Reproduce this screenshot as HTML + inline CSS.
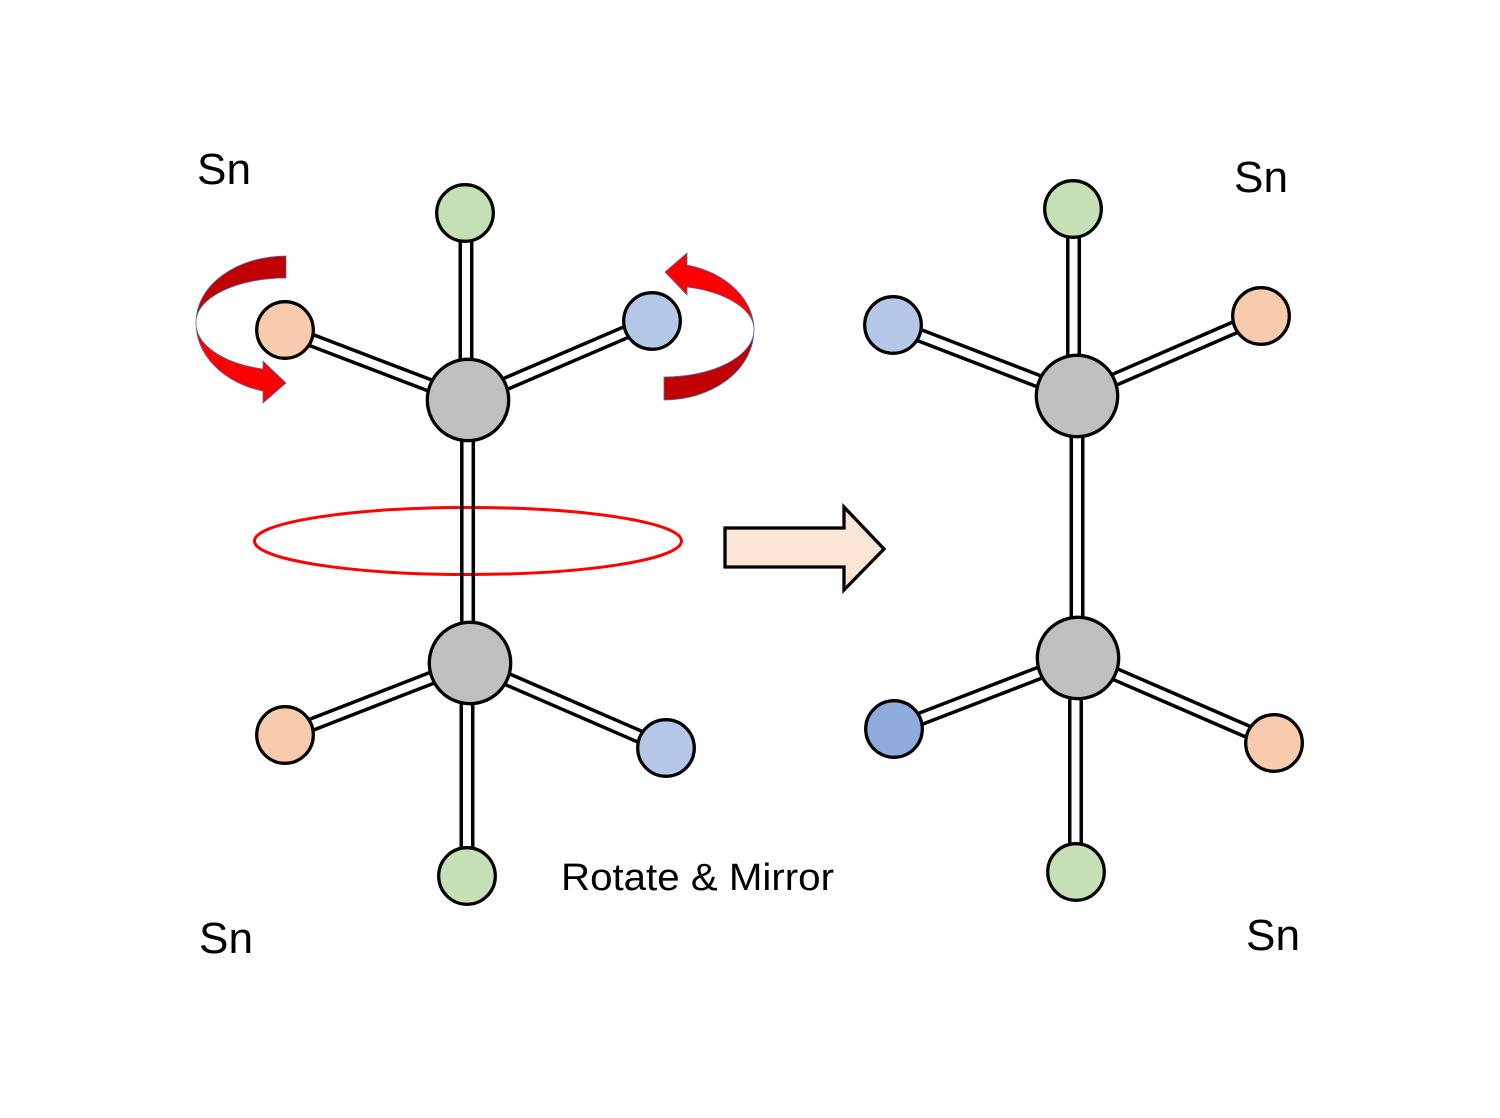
<!DOCTYPE html>
<html>
<head>
<meta charset="utf-8">
<style>
  html,body{margin:0;padding:0;background:#fff;}
  svg{display:block;}
  text{font-family:"Liberation Sans", Arial, sans-serif; fill:#000;}
</style>
</head>
<body>
<svg width="1500" height="1118" viewBox="0 0 1500 1118" xmlns="http://www.w3.org/2000/svg">
  <rect width="1500" height="1118" fill="#fff"/>

  <!-- Labels -->
  <text x="197" y="184" font-size="44" textLength="54" lengthAdjust="spacingAndGlyphs">Sn</text>
  <text x="199" y="953" font-size="44" textLength="54" lengthAdjust="spacingAndGlyphs">Sn</text>
  <text x="1234" y="192" font-size="44" textLength="54" lengthAdjust="spacingAndGlyphs">Sn</text>
  <text x="1246" y="950" font-size="44" textLength="54" lengthAdjust="spacingAndGlyphs">Sn</text>
  <text x="561" y="890" font-size="38" textLength="273" lengthAdjust="spacingAndGlyphs">Rotate &amp; Mirror</text>

  <!-- Curved arrows -->
  <g stroke="#4a6fb0" stroke-width="0.8" stroke-linejoin="miter">
    <path d="M286,256 A90,66 0 0 0 196,322 A90,44 0 0 1 286,278 Z" fill="#C00000"/>
    <path d="M196,322 A90,70 0 0 0 263,391 L263,403 L286,383 L263,361 L263,369 A90,47 0 0 1 196,322 Z" fill="#FF0000"/>
    <path d="M754,330 A90,67 0 0 0 687,265 L687,253 L665,272 L687,295 L687,287 A90,44 0 0 1 754,330 Z" fill="#FF0000"/>
    <path d="M754,330 A90,70 0 0 1 664,400 L664,377 A90,47 0 0 0 754,330 Z" fill="#C00000"/>
  </g>

  <!-- Bonds (left molecule, except central) -->
  <g stroke-linecap="butt">
    <g stroke="#000" stroke-width="15">
      <line x1="466" y1="400" x2="466" y2="213"/>
      <line x1="468" y1="400" x2="285" y2="330"/>
      <line x1="468" y1="400" x2="652" y2="321"/>
      <line x1="470" y1="663" x2="285" y2="735"/>
      <line x1="470" y1="663" x2="666" y2="748"/>
      <line x1="467" y1="663" x2="467" y2="876"/>
    </g>
    <g stroke="#fff" stroke-width="8">
      <line x1="466" y1="400" x2="466" y2="213"/>
      <line x1="468" y1="400" x2="285" y2="330"/>
      <line x1="468" y1="400" x2="652" y2="321"/>
      <line x1="470" y1="663" x2="285" y2="735"/>
      <line x1="470" y1="663" x2="666" y2="748"/>
      <line x1="467" y1="663" x2="467" y2="876"/>
    </g>
  </g>

  <!-- Red ellipse -->
  <ellipse cx="468" cy="541" rx="213.5" ry="33.5" fill="none" stroke="#FF0000" stroke-width="3"/>

  <!-- Central bond left (two lines over ellipse) -->
  <line x1="461.8" y1="400" x2="461.8" y2="663" stroke="#000" stroke-width="3.5"/>
  <line x1="473.3" y1="400" x2="473.3" y2="663" stroke="#000" stroke-width="3.5"/>

  <!-- Bonds right molecule -->
  <g stroke-linecap="butt">
    <g stroke="#000" stroke-width="15">
      <line x1="1077" y1="396" x2="1077" y2="658"/>
      <line x1="1073.5" y1="396" x2="1073.5" y2="209"/>
      <line x1="1077" y1="396" x2="893" y2="325"/>
      <line x1="1077" y1="396" x2="1261" y2="316"/>
      <line x1="1078" y1="658" x2="894" y2="729"/>
      <line x1="1078" y1="658" x2="1274" y2="743"/>
      <line x1="1075.5" y1="658" x2="1075.5" y2="872"/>
    </g>
    <g stroke="#fff" stroke-width="8">
      <line x1="1077" y1="396" x2="1077" y2="658"/>
      <line x1="1073.5" y1="396" x2="1073.5" y2="209"/>
      <line x1="1077" y1="396" x2="893" y2="325"/>
      <line x1="1077" y1="396" x2="1261" y2="316"/>
      <line x1="1078" y1="658" x2="894" y2="729"/>
      <line x1="1078" y1="658" x2="1274" y2="743"/>
      <line x1="1075.5" y1="658" x2="1075.5" y2="872"/>
    </g>
  </g>

  <!-- Atoms left -->
  <g stroke="#000" stroke-width="3.3">
    <circle cx="465" cy="213" r="28.3" fill="#C5E0B4"/>
    <circle cx="285" cy="330" r="28.3" fill="#F8CBAD"/>
    <circle cx="652" cy="321" r="28.3" fill="#B4C7E7"/>
    <circle cx="468" cy="400" r="40.7" fill="#BFBFBF"/>
    <circle cx="470" cy="663" r="40.7" fill="#BFBFBF"/>
    <circle cx="285" cy="735" r="28.3" fill="#F8CBAD"/>
    <circle cx="666" cy="748" r="28.3" fill="#B4C7E7"/>
    <circle cx="467" cy="876" r="28.3" fill="#C5E0B4"/>
  </g>

  <!-- Atoms right -->
  <g stroke="#000" stroke-width="3.3">
    <circle cx="1073" cy="209" r="28.3" fill="#C5E0B4"/>
    <circle cx="893" cy="325" r="28.3" fill="#B4C7E7"/>
    <circle cx="1261" cy="316" r="28.3" fill="#F8CBAD"/>
    <circle cx="1077" cy="396" r="40.7" fill="#BFBFBF"/>
    <circle cx="1078" cy="658" r="40.7" fill="#BFBFBF"/>
    <circle cx="894" cy="729" r="28.3" fill="#8FAADC"/>
    <circle cx="1274" cy="743" r="28.3" fill="#F8CBAD"/>
    <circle cx="1076" cy="872" r="28.3" fill="#C5E0B4"/>
  </g>

  <!-- Block arrow -->
  <polygon points="725,528 844,528 844,507 884,549 844,590 844,567 725,567" fill="#FBE5D6" stroke="#000" stroke-width="3.3" stroke-linejoin="miter"/>
</svg>
</body>
</html>
